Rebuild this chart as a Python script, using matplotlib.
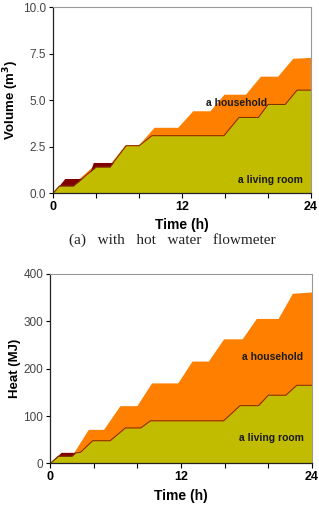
import matplotlib
matplotlib.use("Agg")
import matplotlib.pyplot as plt

plt.rcParams["font.family"] = ["Liberation Sans", "DejaVu Sans"]

# (a) volume, m3 -- breakpoints
vol_house_t = [0, 0.6, 1.7, 3.8, 5.2, 6.7, 8.0, 9.4, 11.6, 13.0, 14.6, 15.9, 17.9, 19.3, 20.9, 22.3, 24]
vol_house_v = [0, 0.42, 0.42, 1.5, 1.5, 2.6, 2.62, 3.54, 3.54, 4.43, 4.43, 5.32, 5.32, 6.29, 6.29, 7.25, 7.3]
vol_red_t = [0, 1.1, 2.7, 3.4, 3.75, 5.5, 6.0]
vol_red_v = [0, 0.79, 0.79, 1.05, 1.65, 1.65, 1.65]
vol_room_t = [0, 0.6, 1.9, 4.0, 5.3, 6.8, 8.0, 9.2, 15.9, 17.3, 19.1, 20.0, 21.6, 22.7, 24]
vol_room_v = [0, 0.39, 0.39, 1.41, 1.41, 2.55, 2.55, 3.09, 3.09, 4.07, 4.07, 4.77, 4.77, 5.54, 5.54]

# (b) heat, MJ
heat_house_t = [0, 0.75, 2.0, 3.5, 4.9, 6.4, 7.95, 9.3, 11.7, 13.0, 14.5, 15.9, 17.6, 18.9, 20.9, 22.2, 24]
heat_house_v = [0, 15, 17, 72, 72, 122, 122, 170, 170, 216, 216, 263, 263, 306, 306, 359, 362]
heat_red_t = [0, 1.0, 2.0, 2.3]
heat_red_v = [0, 23.5, 23.5, 23.5]
heat_room_t = [0, 0.75, 2.0, 2.3, 2.8, 3.9, 5.5, 6.9, 8.3, 9.2, 15.9, 17.4, 19.1, 20.0, 21.6, 22.6, 24]
heat_room_v = [0, 15.5, 15.5, 22, 24, 48, 48, 75, 75, 90, 90, 122, 122, 144, 144, 165, 165]

ORANGE = "#FF8000"
RED = "#800000"
OLIVE = "#C2BC00"
EDGE = "#7A2A00"

fig = plt.figure(figsize=(3.19, 5.11), dpi=100)
ax1 = fig.add_axes([0.166, 0.622, 0.809, 0.364])
ax2 = fig.add_axes([0.157, 0.093, 0.821, 0.371])


def draw(ax, house_t, house_v, red_t, red_v, room_t, room_v):
    ax.fill_between(house_t, 0, house_v, color=ORANGE, lw=0)
    ax.fill_between(red_t, 0, red_v, color=RED, lw=0)
    ax.fill_between(room_t, 0, room_v, color=OLIVE, lw=0)
    ax.plot(room_t, room_v, color=EDGE, lw=0.7)
    ax.set_xlim(0, 24)
    ax.set_xticks(range(0, 25, 4))
    ax.set_xticklabels(["0", "", "", "12", "", "", "24"], fontweight="bold", fontsize=9)
    ax.tick_params(axis="x", length=3.5, width=0.8, pad=2)
    ax.tick_params(axis="y", length=3, width=0.8, labelsize=8.5, labelcolor="#444444", pad=2)
    for s in ("top", "right"):
        ax.spines[s].set_color("#999999")
        ax.spines[s].set_linewidth(0.8)
    for s in ("left", "bottom"):
        ax.spines[s].set_color("#222222")
        ax.spines[s].set_linewidth(0.9)
    ax.set_xlabel("Time (h)", fontsize=10, fontweight="bold", labelpad=4)


draw(ax1, vol_house_t, vol_house_v, vol_red_t, vol_red_v, vol_room_t, vol_room_v)
ax1.set_ylim(0, 10)
ax1.set_yticks([0, 2.5, 5.0, 7.5, 10.0])
ax1.set_yticklabels(["0.0", "2.5", "5.0", "7.5", "10.0"])
ax1.set_ylabel(r"Volume (m$^\mathbf{3}$)", fontsize=9.5, fontweight="bold")
ax1.yaxis.set_label_coords(-0.125, 0.5)
ax1.text(17.1, 4.84, "a household", fontsize=7.5, fontweight="bold", color="#1a1a1a",
         ha="center", va="center")
ax1.text(20.2, 0.7, "a living room", fontsize=7.5, fontweight="bold", color="#1a1a1a",
         ha="center", va="center")

draw(ax2, heat_house_t, heat_house_v, heat_red_t, heat_red_v, heat_room_t, heat_room_v)
ax2.set_ylim(0, 400)
ax2.set_yticks([0, 100, 200, 300, 400])
ax2.set_ylabel("Heat (MJ)", fontsize=9.5, fontweight="bold")
ax2.yaxis.set_label_coords(-0.112, 0.5)
ax2.text(20.4, 225, "a household", fontsize=7.5, fontweight="bold", color="#1a1a1a",
         ha="center", va="center")
ax2.text(20.3, 53, "a living room", fontsize=7.5, fontweight="bold", color="#1a1a1a",
         ha="center", va="center")

fig.text(0.54, 1 - 240 / 511, "(a)   with   hot   water   flowmeter", family=["Liberation Serif"],
         fontsize=11, ha="center", va="center", color="#222222")

fig.savefig("out.png", dpi=100)
